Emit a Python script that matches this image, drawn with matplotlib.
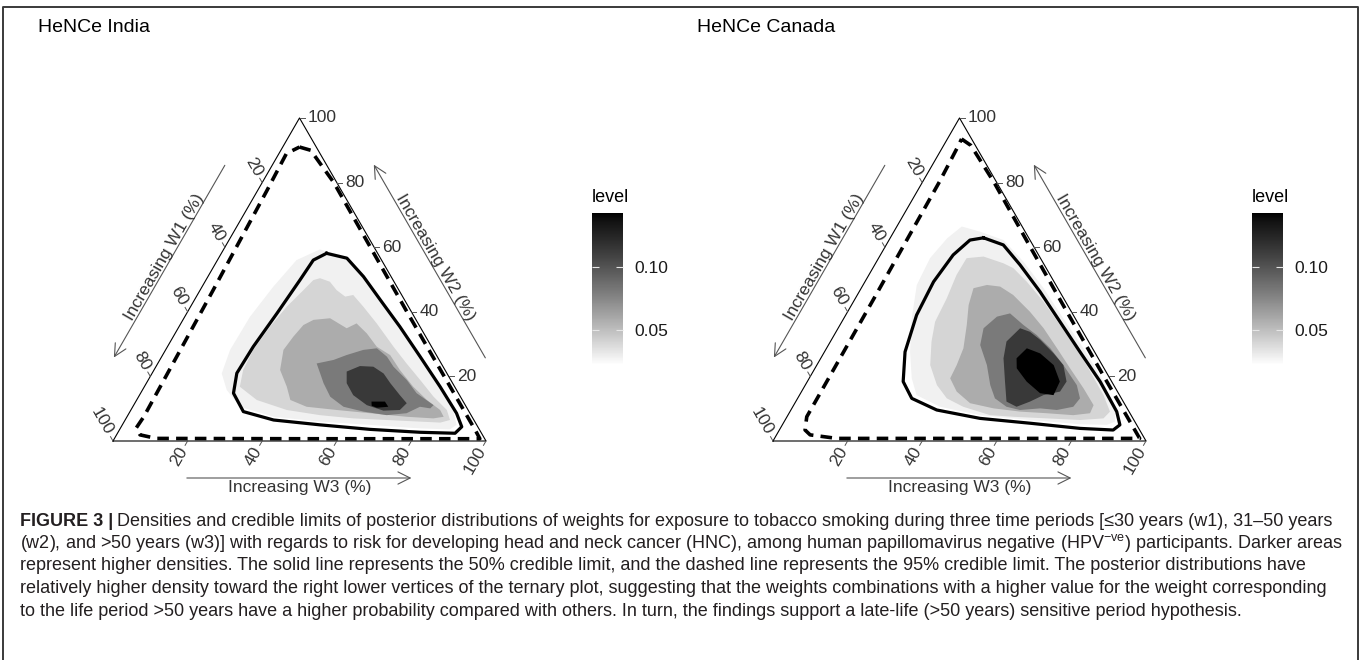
import numpy as np
import matplotlib
matplotlib.use('Agg')
import matplotlib.pyplot as plt
from matplotlib.colors import ListedColormap, Normalize
from matplotlib.colorbar import ColorbarBase
from matplotlib.lines import Line2D

plt.rcParams['font.family'] = ['Liberation Sans', 'DejaVu Sans']
plt.rcParams['mathtext.fontset'] = 'custom'
plt.rcParams['mathtext.rm'] = 'Liberation Sans'
plt.rcParams['mathtext.default'] = 'regular'

W, H = 1363, 660

panel_titles = ['HeNCe India', 'HeNCe Canada']
axis_titles = ['Increasing W1 (%)', 'Increasing W2 (%)', 'Increasing W3 (%)']
tick_values = [20, 40, 60, 80, 100]
level_ticks = [0.05, 0.10]
level_range = [0.022, 0.143]
band_levels = [0.028, 0.040, 0.058, 0.081, 0.114, 0.143]

# all shapes as (w2 %, w3 %); w1 is the remainder to 100
india_bands = [
    [(59.3, 25.8), (57.6, 32.1), (51.9, 40.2), (43.7, 49.7), (34.9, 59.4), (25.6, 69.5), (16.8, 78.8),
     (9.1, 86.7), (5.0, 89.6), (3.6, 88.5), (3.9, 80.4), (5.0, 66.4), (6.0, 52.5), (7.5, 39.3),
     (10.6, 28.7), (15.8, 22.6), (20.9, 18.7), (28.2, 17.3), (38.5, 17.5), (47.8, 19.1), (56.0, 21.2)],
    [(50.4, 30.3), (49.3, 33.5), (46.7, 36.6), (44.7, 39.9), (45.2, 41.8), (41.6, 46.3), (36.4, 52.5),
     (29.2, 60.6), (24.0, 66.7), (18.9, 72.9), (13.7, 79.1), (9.6, 84.7), (6.5, 87.1), (5.7, 84.9),
     (6.0, 79.3), (6.5, 70.2), (7.0, 60.9), (8.0, 51.5), (9.6, 41.8), (12.7, 32.2), (16.8, 25.6),
     (22.0, 23.9), (28.2, 23.5), (35.4, 24.4), (41.6, 25.8), (46.7, 27.7), (49.8, 28.8)],
    [(37.5, 35.0), (38.0, 39.2), (34.9, 45.2), (36.4, 47.1), (33.3, 51.4), (29.2, 56.1), (26.6, 61.0),
     (22.0, 65.9), (16.8, 72.1), (12.7, 77.8), (9.6, 82.9), (7.5, 84.9), (7.0, 82.4), (7.5, 75.0),
     (8.6, 64.6), (9.6, 55.2), (10.6, 46.6), (12.7, 41.2), (16.8, 38.2), (22.0, 33.8), (28.2, 31.6),
     (32.3, 32.2), (35.9, 33.1)],
    [(24.0, 42.6), (25.1, 46.6), (26.6, 49.3), (28.2, 53.0), (28.7, 56.4), (26.1, 60.4), (23.0, 63.7),
     (18.9, 69.3), (14.8, 74.0), (11.1, 80.4), (10.1, 80.0), (10.6, 77.0), (8.6, 74.4), (8.0, 69.4),
     (9.1, 62.6), (10.6, 56.5), (13.7, 51.4), (17.9, 47.5), (20.9, 45.1)],
    [(21.5, 51.9), (23.2, 54.6), (23.0, 58.3), (20.9, 62.1), (17.9, 65.4), (14.2, 69.8), (11.7, 72.9),
     (9.6, 72.1), (9.4, 67.8), (11.1, 62.5), (14.2, 57.3), (17.9, 53.7)],
    [(12.2, 63.2), (12.2, 66.8), (10.6, 68.5), (10.3, 65.6), (10.9, 63.9)],
]
india_solid = [(58.1, 28.2), (56.6, 34.4), (50.9, 41.7), (43.7, 49.8), (35.4, 59.2), (26.1, 69.3),
               (16.8, 79.3), (8.6, 87.8), (4.4, 91.3), (2.4, 90.5), (2.7, 81.0), (3.6, 67.1),
               (5.0, 53.0), (6.5, 39.8), (9.1, 30.4), (14.8, 24.9), (21.0, 22.7), (29.2, 23.0),
               (39.5, 24.2), (49.8, 25.2), (56.0, 25.7)]
india_dashed = [(91.0, 4.5), (90.0, 8.0), (80.0, 19.2), (60.0, 39.0), (40.0, 58.8), (20.0, 78.8),
                (3.0, 95.8), (0.7, 98.0), (0.7, 49.3), (0.8, 11.2), (1.9, 6.3), (4.0, 4.2),
                (7.5, 4.5), (46.5, 3.5), (77.5, 2.5), (89.0, 2.0)]

canada_bands = [
    [(66.4, 17.4), (64.8, 23.1), (62.2, 30.7), (55.5, 39.4), (47.3, 48.9), (38.0, 58.8), (28.7, 68.9),
     (19.4, 78.4), (10.1, 86.7), (6.0, 88.7), (5.0, 87.0), (5.2, 79.7), (6.5, 65.7), (8.0, 51.5),
     (10.6, 39.5), (14.2, 31.4), (19.4, 27.5), (27.7, 22.9), (38.0, 18.2), (48.3, 14.4), (56.6, 13.8),
     (62.7, 15.3)],
    [(56.6, 23.6), (57.1, 27.9), (55.0, 34.3), (53.5, 37.7), (49.3, 43.4), (43.1, 51.0), (35.9, 59.0),
     (28.7, 67.1), (21.5, 74.3), (14.2, 81.5), (9.1, 85.8), (7.0, 85.1), (6.5, 79.1), (7.0, 69.9),
     (7.5, 60.7), (8.0, 54.2), (10.6, 45.7), (13.2, 40.0), (17.3, 35.3), (23.5, 30.4), (30.8, 27.1),
     (36.9, 25.0), (44.2, 24.5), (51.4, 23.5)],
    [(47.3, 30.1), (48.3, 33.2), (47.8, 37.0), (45.2, 41.8), (40.0, 48.9), (34.9, 55.1), (28.7, 61.8),
     (22.5, 68.4), (16.3, 75.1), (11.1, 80.4), (8.6, 80.7), (8.0, 76.5), (8.6, 69.1), (9.1, 61.7),
     (10.1, 54.1), (11.7, 47.0), (15.3, 41.6), (19.4, 37.8), (23.5, 37.5), (28.7, 36.7), (35.9, 34.0),
     (42.1, 31.4)],
    [(34.9, 39.0), (38.5, 40.8), (39.5, 43.8), (35.9, 49.2), (32.8, 54.3), (28.7, 60.0), (23.5, 66.1),
     (17.3, 72.8), (13.2, 75.7), (10.6, 75.2), (9.6, 71.3), (10.1, 66.6), (9.6, 61.4), (10.6, 57.3),
     (13.2, 52.9), (17.3, 49.6), (23.5, 45.6), (29.7, 40.7)],
    [(30.8, 47.2), (34.9, 48.8), (33.8, 52.0), (31.3, 56.0), (27.1, 61.7), (23.5, 66.1), (18.4, 69.5),
     (15.3, 69.3), (14.2, 65.4), (12.2, 62.8), (10.6, 60.0), (12.2, 56.5), (18.4, 53.0), (25.6, 49.0)],
    [(25.6, 52.5), (28.7, 53.7), (27.1, 58.1), (23.5, 63.5), (18.4, 67.7), (14.2, 68.1), (14.8, 64.2),
     (18.4, 58.8), (22.5, 54.1)],
]
canada_solid = [(62.9, 25.0), (60.7, 31.4), (54.5, 39.0), (46.2, 48.5), (36.9, 58.5), (27.6, 68.5),
                (18.4, 78.5), (9.1, 87.6), (5.0, 90.5), (3.4, 89.5), (3.9, 80.4), (5.5, 66.2),
                (7.0, 52.0), (9.6, 39.1), (13.2, 30.6), (18.4, 25.7), (27.6, 21.6), (39.0, 19.0),
                (49.3, 18.4), (57.6, 19.5), (62.2, 21.7)]
canada_dashed = [(93.5, 3.8), (91.5, 7.3), (80.0, 19.3), (60.0, 39.0), (40.0, 58.8), (20.0, 78.7),
                 (3.0, 95.7), (0.8, 97.9), (0.8, 49.2), (0.8, 16.7), (1.9, 9.0), (3.4, 6.9),
                 (7.5, 5.3), (45.0, 5.0), (80.5, 4.5), (91.0, 4.0)]

caption_bold = 'FIGURE 3 |'
caption_lines = [
    'Densities and credible limits of posterior distributions of weights for exposure to tobacco smoking during three time periods [\u226430 years (w1), 31\u201350 years',
    '(w2), and >50 years (w3)] with regards to risk for developing head and neck cancer (HNC), among human papillomavirus negative (HPV$^{-ve}$) participants. Darker areas',
    'represent higher densities. The solid line represents the 50% credible limit, and the dashed line represents the 95% credible limit. The posterior distributions have',
    'relatively higher density toward the right lower vertices of the ternary plot, suggesting that the weights combinations with a higher value for the weight corresponding',
    'to the life period >50 years have a higher probability compared with others. In turn, the findings support a late-life (>50 years) sensitive period hypothesis.',
]


def lab_gray(f):
    # white -> black with lightness linear, like ggplot's gradient
    L = 100 * (1 - f)
    Y = np.where(L > 8, ((L + 16) / 116) ** 3, L / 903.3)
    return np.where(Y > 0.0031308, 1.055 * Y ** (1 / 2.4) - 0.055, 12.92 * Y)


g = lab_gray(np.linspace(0, 1, 256))
cmap = ListedColormap(np.column_stack([g, g, g]))
norm = Normalize(level_range[0], level_range[1])

SQ = np.sqrt(3) / 2
PX = 373.0  # pixels per unit side


def tern(pts):
    a = np.array(pts, dtype=float) / 100.0
    w2, w3 = a[:, 0], a[:, 1]
    return w3 + 0.5 * w2, SQ * w2


def draw_panel(x0, bands, solid, dashed):
    ax = fig.add_axes([x0 / W, (H - 500) / H, 560 / W, 400 / H])
    ax.set_xlim(-93 / PX, 467 / PX)
    ax.set_ylim(-59 / PX, 341 / PX)
    ax.axis('off')

    for pts, lev in zip(bands, band_levels):
        x, y = tern(pts)
        ax.fill(x, y, color=cmap(norm(lev)), lw=0, zorder=1)

    ax.plot([0, 1, 0.5, 0], [0, 0, SQ, 0], color='black', lw=0.8, zorder=2)

    x, y = tern(solid)
    ax.plot(np.append(x, x[0]), np.append(y, y[0]), color='black', lw=2.3,
            solid_joinstyle='round', zorder=4)
    x, y = tern(dashed)
    ax.plot(np.append(x, x[0]), np.append(y, y[0]), color='black', lw=2.6,
            linestyle=(0, (3.2, 2.0)), dash_capstyle='butt', zorder=4)

    tick_col = '#333333'
    for v in tick_values:
        f = v / 100
        specs = [
            ((0.5 * (1 - f), SQ * (1 - f)), 120, -60, 'right'),  # W1 left edge
            ((1 - 0.5 * f, SQ * f), 0, 0, 'left'),  # W2 right edge
            ((f, 0.0), 240, 60, 'right'),  # W3 bottom
        ]
        for (px, py), ang, rot, ha in specs:
            d = np.array([np.cos(np.radians(ang)), np.sin(np.radians(ang))])
            ax.plot([px, px + d[0] * 5 / PX], [py, py + d[1] * 5 / PX], color='#555555', lw=0.7, zorder=2)
            ax.text(px + d[0] * 8 / PX, py + d[1] * 8 / PX, str(v), rotation=rot, ha=ha, va='center',
                    rotation_mode='anchor', fontsize=12.5, color=tick_col)

    arrow = dict(arrowstyle='->', color='#555555', lw=0.8, mutation_scale=22, shrinkA=0, shrinkB=0)
    # W1 along left edge, pointing to bottom-left
    n1 = np.array([-SQ, 0.5])
    e1 = np.array([0.5, SQ])
    s = e1 * 0.79 + n1 * 41 / PX
    e = e1 * 0.195 + n1 * 41 / PX
    ax.annotate('', xy=e, xytext=s, arrowprops=arrow)
    c = e1 * 0.495 + n1 * 43 / PX
    ax.text(c[0], c[1], axis_titles[0], rotation=60, ha='center', va='baseline',
            rotation_mode='anchor', fontsize=12.5, color=tick_col)
    # W2 along right edge, pointing to apex
    n2 = np.array([SQ, 0.5])
    b = np.array([1.0, 0.0])
    e2 = np.array([-0.5, SQ])
    s = b + e2 * 0.194 + n2 * 41 / PX
    e = b + e2 * 0.792 + n2 * 41 / PX
    ax.annotate('', xy=e, xytext=s, arrowprops=arrow)
    c = b + e2 * 0.494 + n2 * 43 / PX
    ax.text(c[0], c[1], axis_titles[1], rotation=-60, ha='center', va='baseline',
            rotation_mode='anchor', fontsize=12.5, color=tick_col)
    # W3 under bottom edge, pointing right
    ax.annotate('', xy=(0.80, -37 / PX), xytext=(0.198, -37 / PX), arrowprops=arrow)
    ax.text(0.5, -39 / PX, axis_titles[2], ha='center', va='top', fontsize=12.5, color=tick_col)
    return ax


fig = plt.figure(figsize=(W / 100, H / 100), dpi=100)

draw_panel(20, india_bands, india_solid, india_dashed)
draw_panel(680, canada_bands, canada_solid, canada_dashed)

for x_title, x_bar, title in [(38, 592, panel_titles[0]), (697, 1252, panel_titles[1])]:
    fig.text(x_title / W, 1 - 27 / H, title, ha='left', va='center', fontsize=14, color='black')
    cax = fig.add_axes([x_bar / W, (H - 365) / H, 31 / W, 152 / H])
    cb = ColorbarBase(cax, cmap=cmap, norm=norm, orientation='vertical')
    cb.outline.set_visible(False)
    cb.set_ticks(level_ticks)
    cb.set_ticklabels(['%.2f' % t for t in level_ticks])
    cax.yaxis.set_ticks_position('both')
    cax.tick_params(axis='y', direction='in', length=5, width=0.8, color='#e6e6e6',
                    labelleft=False, labelright=True, labelsize=12.5, labelcolor='#1a1a1a', pad=8)
    fig.text(x_bar / W, 1 - 197 / H, 'level', ha='left', va='center', fontsize=13, color='black')

# frame around the figure panel
frame = Line2D(np.array([3, 3, 1358, 1358]) / W, 1 - np.array([662, 7, 7, 662]) / H,
               transform=fig.transFigure, color='#3a3a3a', lw=1.4)
fig.add_artist(frame)

cap_size = 13.0
cap_col = '#231f20'
line_y = [521, 543.5, 566, 588.5, 611]
tb = fig.text(20 / W, 1 - line_y[0] / H, caption_bold, fontweight='bold', ha='left', va='center',
              fontsize=cap_size, color=cap_col)
fig.canvas.draw()
bb = tb.get_window_extent(fig.canvas.get_renderer())
fig.text((bb.x1 + 4) / W, 1 - line_y[0] / H, caption_lines[0], ha='left', va='center',
         fontsize=cap_size, color=cap_col)
for yy, line in zip(line_y[1:], caption_lines[1:]):
    fig.text(20 / W, 1 - yy / H, line, ha='left', va='center', fontsize=cap_size, color=cap_col)

fig.savefig('out.png', dpi=100)
